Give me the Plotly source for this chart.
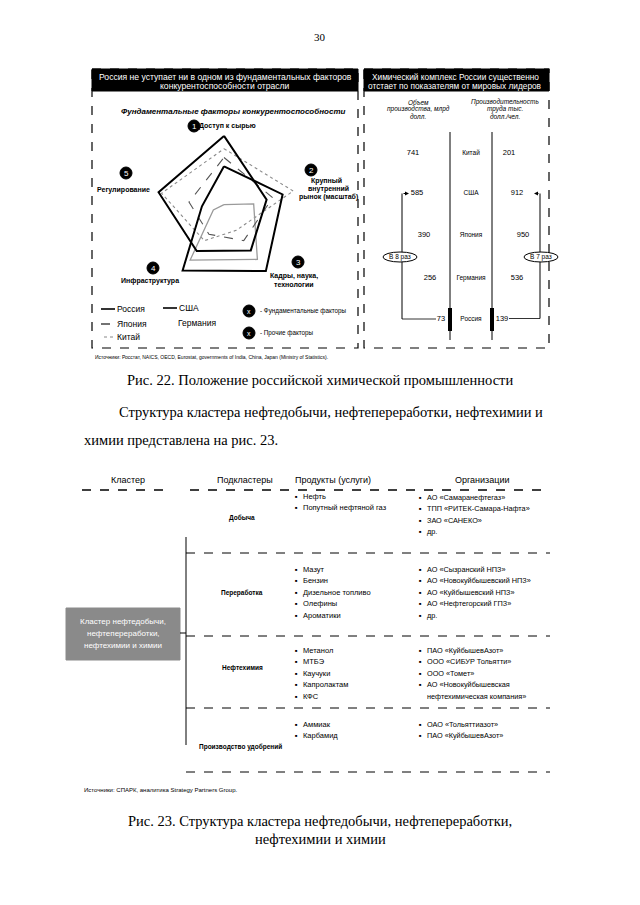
import plotly.graph_objects as go

W, H = 632, 897          # figure size (page body adds an 8px offset)
OFF = 8                  # browser default body margin
SANS = "Liberation Sans, Arial, sans-serif"
SERIF = "Liberation Serif, Times New Roman, serif"

# ---------------- data ----------------
factors = ["Доступ к сырью", "Крупный внутренний рынок (масштаб)",
           "Кадры, наука, технологии", "Инфраструктура", "Регулирование"]
russia = [9.7, 5.6, 5.7, 5.8, 8.6]
usa = [5.9, 7.7, 8.9, 8.8, 2.9]
japan = [7.0, 6.4, 4.2, 3.2, 4.6]
germany = [1.1, 3.9, 7.1, 7.2, 1.4]
china = [8.1, 9.1, 2.6, 4.2, 8.2]

rp_countries = ["Китай", "США", "Япония", "Германия", "Россия"]
output_bln = [741, 585, 390, 256, 73]
productivity = [201, 912, 950, 536, 139]

subclusters = ["Добыча", "Переработка", "Нефтехимия", "Производство удобрений"]
products = [["Нефть", "Попутный нефтяной газ"],
            ["Мазут", "Бензин", "Дизельное топливо", "Олефины", "Ароматики"],
            ["Метанол", "МТБЭ", "Каучуки", "Капролактам", "КФС"],
            ["Аммиак", "Карбамид"]]
organizations = [["АО «Самаранефтегаз»", "ТПП «РИТЕК-Самара-Нафта»", "ЗАО «САНЕКО»", "др."],
                 ["АО «Сызранский НПЗ»", "АО «Новокуйбышевский НПЗ»", "АО «Куйбышевский НПЗ»",
                  "АО «Нефтегорский ГПЗ»", "др."],
                 ["ПАО «КуйбышевАзот»", "ООО «СИБУР Тольятти»", "ООО «Томет»",
                  "АО «Новокуйбышевская", "нефтехимическая компания»"],
                 ["ОАО «Тольяттиазот»", "ПАО «КуйбышевАзот»"]]

fig = go.Figure()

def T(x, y, text, size=8, color="black", family=SANS, xanchor="center", yanchor="middle"):
    fig.add_annotation(x=x, y=y, xref="x", yref="y", text=text, showarrow=False,
                       font=dict(size=size, color=color, family=family),
                       xanchor=xanchor, yanchor=yanchor, borderpad=0)

def L(x0, y0, x1, y1, width=1, color="black", dash="solid"):
    fig.add_shape(type="line", x0=x0, y0=y0, x1=x1, y1=y1, xref="x", yref="y",
                  line=dict(width=width, color=color, dash=dash))

def R(x0, y0, x1, y1, fill=None, line_color="black", width=1, dash="solid"):
    fig.add_shape(type="rect", x0=x0, y0=y0, x1=x1, y1=y1, xref="x", yref="y",
                  fillcolor=fill if fill else "rgba(0,0,0,0)",
                  line=dict(width=width, color=line_color, dash=dash))

def C(cx, cy, r, label, size=8):
    fig.add_shape(type="circle", x0=cx - r, x1=cx + r, y0=cy - r, y1=cy + r,
                  xref="x", yref="y", fillcolor="black", line=dict(color="black", width=1))
    T(cx, cy, label, size=size, color="white")

# ---------------- radar ----------------
def close(v):
    return v + [v[0]]

series = [
    ("Китай", china, dict(color="#8a8a8a", width=1.1, dash="dot")),
    ("Германия", germany, dict(color="#9a9a9a", width=1.3)),
    ("Япония", japan, dict(color="#555555", width=1.1, dash="dash")),
    ("США", usa, dict(color="black", width=2.0)),
    ("Россия", russia, dict(color="black", width=2.0)),
]
for name, vals, ln in series:
    fig.add_trace(go.Scatterpolar(r=close(vals), theta=close(factors), mode="lines",
                                  line=ln, name=name, showlegend=False, hoverinfo="skip"))

cx, cy, rad = 224, 213.5, 80
fig.update_layout(polar=dict(
    domain=dict(x=[(cx - rad - OFF) / W, (cx + rad - OFF) / W],
                y=[1 - (cy + rad - OFF) / H, 1 - (cy - rad - OFF) / H]),
    bgcolor="rgba(0,0,0,0)",
    radialaxis=dict(range=[0, 10], visible=False),
    angularaxis=dict(visible=False, rotation=90, direction="clockwise"),
))

# ---------------- right panel values (text marks) ----------------
row_y = [153, 193.5, 235, 278, 319]
out_x = [413, 417, 424, 430, 441]
prod_x = [509, 517, 523, 517, 502]
fig.add_trace(go.Scatter(x=out_x, y=row_y, mode="text", text=[str(v) for v in output_bln],
                         textfont=dict(size=7.5, family=SANS, color="black"),
                         showlegend=False, hoverinfo="skip"))
fig.add_trace(go.Scatter(x=prod_x, y=row_y, mode="text", text=[str(v) for v in productivity],
                         textfont=dict(size=7.5, family=SANS, color="black"),
                         showlegend=False, hoverinfo="skip"))
fig.add_trace(go.Scatter(x=[471] * 5, y=row_y, mode="text", text=rp_countries,
                         textfont=dict(size=6.5, family=SANS, color="black"),
                         showlegend=False, hoverinfo="skip"))

# ---------------- page text ----------------
T(320, 37, "30", size=11, family=SERIF)

# left panel
R(92, 69, 358, 348, width=1.2, dash="dash")
R(92, 69, 358, 91, fill="black", line_color="black")
T(225, 77, "Россия не уступает ни в одном из фундаментальных факторов", size=8.6, color="white")
T(225, 86, "конкурентоспособности отрасли", size=8.6, color="white")
T(233, 111, "<b><i>Фундаментальные факторы конкурентоспособности</i></b>", size=8)

C(194, 126, 6, "1")
T(198, 126, "<b>Доступ к сырью</b>", size=7, xanchor="left")
C(311, 170, 6, "2")
T(326, 181, "<b>Крупный</b>", size=7)
T(328, 189, "<b>внутренний</b>", size=7)
T(328, 197, "<b>рынок (масштаб)</b>", size=7)
C(298, 262, 6, "3")
T(294, 276, "<b>Кадры, наука,</b>", size=7)
T(294, 284, "<b>технологии</b>", size=7)
C(153, 268, 6, "4")
T(150, 281, "<b>Инфраструктура</b>", size=7)
C(126, 173, 6, "5")
T(123, 190, "<b>Регулирование</b>", size=7)

# legend
L(101, 309, 115, 309, width=1.6)
T(116, 309, "Россия", size=8.5, xanchor="left")
L(163, 308, 177, 308, width=1.6)
T(178, 308, "США", size=8.5, xanchor="left")
L(101, 324, 115, 324, width=1.1, dash="dash")
T(116, 324, "Япония", size=8.5, xanchor="left")
T(177, 323, "Германия", size=8.5, xanchor="left")
L(104, 337, 115, 337, width=1, color="#888", dash="dot")
T(116, 337, "Китай", size=8.5, xanchor="left")
C(249, 311, 6, "x", size=7)
T(259, 311, "- Фундаментальные факторы", size=6.3, xanchor="left")
C(249, 333, 6, "x", size=7)
T(259, 333, "- Прочие факторы", size=6.3, xanchor="left")
T(94, 357, "Источники: Росстат, NAICS, OECD, Eurostat, governments of India, China, Japan (Ministry of Statistics).",
  size=5, xanchor="left")

# right panel
R(364, 69, 549, 348, width=1.2, dash="dash")
R(364, 69, 549, 91, fill="black", line_color="black")
T(455, 77, "Химический комплекс России существенно", size=8.3, color="white")
T(455, 86, "отстает по показателям от мировых лидеров", size=8.3, color="white")
for i, s in enumerate(["Объем", "производства, млрд", "долл."]):
    T(418, 102 + 7 * i, "<i>" + s + "</i>", size=6.5)
for i, s in enumerate(["Производительность", "труда тыс.", "долл./чел."]):
    T(505, 102 + 7 * i, "<i>" + s + "</i>", size=6.5)
L(450, 132, 450, 340, width=1)
L(492, 132, 492, 340, width=1)
L(450, 308, 450, 331, width=4)
L(492, 308, 492, 331, width=4)
# left bracket
L(402, 193.5, 402, 319)
L(402, 319, 436, 319, width=0.8)
fig.add_annotation(x=409, y=193.5, ax=402, ay=193.5, xref="x", yref="y", axref="x", ayref="y",
                   text="", showarrow=True, arrowhead=2, arrowsize=0.8, arrowwidth=1, arrowcolor="black")
fig.add_shape(type="circle", x0=383, x1=417, y0=252, y1=262, xref="x", yref="y",
              fillcolor="white", line=dict(color="black", width=1))
T(400, 257, "В 8 раз", size=6.5)
# right bracket
L(540, 193.5, 540, 318.5)
L(540, 318.5, 509, 318.5, width=0.8)
fig.add_annotation(x=534, y=193.5, ax=540, ay=193.5, xref="x", yref="y", axref="x", ayref="y",
                   text="", showarrow=True, arrowhead=2, arrowsize=0.8, arrowwidth=1, arrowcolor="black")
fig.add_shape(type="circle", x0=524, x1=558, y0=252, y1=262, xref="x", yref="y",
              fillcolor="white", line=dict(color="black", width=1))
T(541, 257, "В 7 раз", size=6.5)

# captions / body text
T(320, 380, "Рис. 22. Положение российской химической промышленности", size=14.5, family=SERIF)
T(118, 412, "Структура кластера нефтедобычи, нефтепереработки, нефтехимии и", size=14.5,
  family=SERIF, xanchor="left")
T(83, 440, "химии представлена на рис. 23.", size=14.5, family=SERIF, xanchor="left")

# ---------------- table ----------------
T(128, 480, "Кластер", size=9)
T(245, 480, "Подкластеры", size=9)
T(333, 480, "Продукты (услуги)", size=9)
T(482, 480, "Организации", size=9)
L(82, 490, 172, 490, width=1.4, dash="dash")
L(190, 490, 550, 490, width=1.4, dash="dash")

L(186, 537, 186, 745, width=1)
for yy in [553, 636, 708, 772]:
    L(186, yy, 550, yy, width=1, dash="dash")

R(66, 608, 180, 660, fill="#8a8a8a", line_color="#8a8a8a")
L(180, 633, 186, 633, width=1)
T(123, 621, "Кластер нефтедобычи,", size=8, color="white")
T(123, 633, "нефтепереработки,", size=8, color="white")
T(123, 645, "нефтехимии и химии", size=8, color="white")

sub_y = [518, 593, 668, 747]
prod_y0 = [496, 569, 650, 724]
org_y0 = [497, 569, 650, 724]
step = 11.6
for k in range(4):
    T(242 if k < 3 else 240, sub_y[k], "<b>" + subclusters[k] + "</b>", size=6.5)
    for j, p in enumerate(products[k]):
        yy = prod_y0[k] + step * j
        T(296, yy, "■", size=4, xanchor="center")
        T(302, yy, p, size=7.5, xanchor="left")
    for j, o in enumerate(organizations[k]):
        yy = org_y0[k] + step * j
        if not (k == 2 and j == 4):
            T(420, yy, "■", size=4, xanchor="center")
        T(426, yy, o, size=7.3, xanchor="left")

T(83, 790, "Источники: СПАРК, аналитика Strategy Partners Group.", size=6, xanchor="left")
T(320, 821, "Рис. 23. Структура кластера нефтедобычи, нефтепереработки,", size=14.5, family=SERIF)
T(320, 839, "нефтехимии и химии", size=14.5, family=SERIF)

fig.update_layout(
    width=W, height=H, margin=dict(l=0, r=0, t=0, b=0),
    paper_bgcolor="white", plot_bgcolor="rgba(0,0,0,0)",
    xaxis=dict(range=[OFF, OFF + W], visible=False, domain=[0, 1], fixedrange=True),
    yaxis=dict(range=[OFF + H, OFF], visible=False, domain=[0, 1], fixedrange=True),
    showlegend=False,
)
fig.write_html("out.html")
